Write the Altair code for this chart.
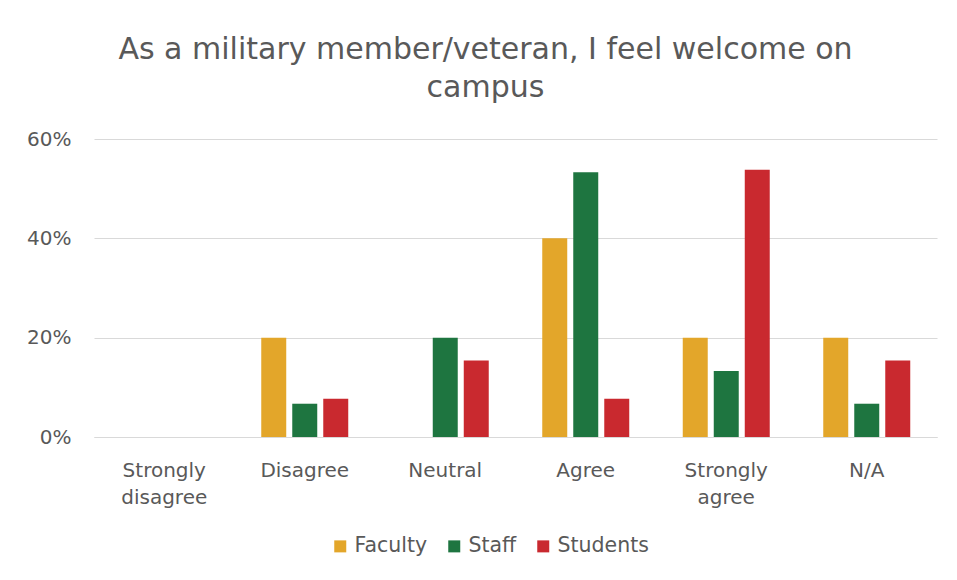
import altair as alt
import pandas as pd

categories = ["Strongly disagree", "Disagree", "Neutral", "Agree", "Strongly agree", "N/A"]
groups = ["Faculty", "Staff", "Students"]
faculty = [0, 20, 0, 40, 20, 20]
staff = [0, 6.7, 20, 53.3, 13.3, 6.7]
students = [0, 7.7, 15.4, 7.7, 53.8, 15.4]
colors = ["#E3A62A", "#1E7540", "#C9292F"]
title_lines = ["As a military member/veteran, I feel welcome on", "campus"]

rows = []
for g, vals in zip(groups, [faculty, staff, students]):
    for c, v in zip(categories, vals):
        rows.append({"category": c, "group": g, "value": v / 100})
df = pd.DataFrame(rows)

FONT = "DejaVu Sans"
GRAY = "#595959"

chart = alt.Chart(df).mark_bar().encode(
    x=alt.X("category:N", sort=categories,
            scale=alt.Scale(paddingInner=0.338, paddingOuter=0.169),
            axis=alt.Axis(title=None, labelAngle=0, ticks=False,
                          domainColor="#D9D9D9", domainWidth=1,
                          labelFont=FONT, labelFontSize=20, labelColor=GRAY,
                          labelPadding=23, labelLineHeight=27,
                          labelExpr="split(datum.label, ' ')")),
    xOffset=alt.XOffset("group:N", sort=groups,
                        scale=alt.Scale(paddingInner=0.194, paddingOuter=0.097)),
    y=alt.Y("value:Q", scale=alt.Scale(domain=[0, 0.6], nice=False),
            axis=alt.Axis(title=None, values=[0, 0.2, 0.4, 0.6], format=".0%",
                          ticks=False, domain=False, gridColor="#D9D9D9",
                          gridWidth=1, labelFont=FONT, labelFontSize=20,
                          labelColor=GRAY, labelPadding=23)),
    color=alt.Color("group:N", sort=groups,
                    scale=alt.Scale(domain=groups, range=colors),
                    legend=alt.Legend(title=None, orient="none", direction="horizontal",
                                      legendX=236, legendY=397,
                                      symbolType="square", symbolSize=144,
                                      symbolStrokeWidth=0, labelFont=FONT,
                                      labelFontSize=20.5, labelColor=GRAY,
                                      labelOffset=4, columnPadding=16)),
).properties(
    width=843,
    height=298,
    title=alt.TitleParams(text=title_lines, font=FONT, fontSize=30, fontWeight="normal",
                          color=GRAY, anchor="middle", frame="group", dx=-30,
                          baseline="alphabetic", offset=2, lineHeight=38),
    autosize=alt.AutoSizeParams(type="none"),
    padding={"left": 86, "top": 131, "right": 12, "bottom": 143},
).configure_view(stroke=None)

chart.save("out.html", embed_options={"renderer": "svg", "actions": False})
